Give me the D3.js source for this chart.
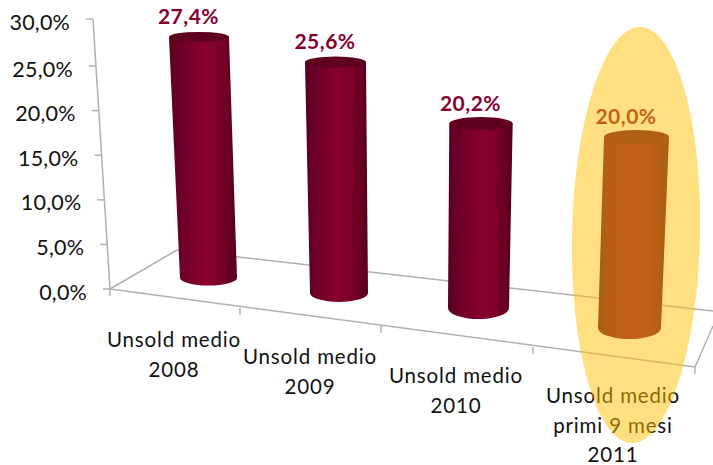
<!DOCTYPE html>
<html>
<head>
<meta charset="utf-8">
<script src="https://cdn.jsdelivr.net/npm/d3@7"></script>
<style>
  html, body { margin: 0; padding: 0; background: #fff; }
  svg { display: block; }
  text { font-family: "Lato", sans-serif; }
</style>
</head>
<body>
<svg id="chart" width="713" height="465"></svg>
<script>
// Chart data
const categories = [
  ["Unsold medio", "2008"],
  ["Unsold medio", "2009"],
  ["Unsold medio", "2010"],
  ["Unsold medio", "primi 9 mesi", "2011"]
];
const values = [27.4, 25.6, 20.2, 20.0];
const tickValues = [0, 5, 10, 15, 20, 25, 30];
const tickLabels = ["0,0%", "5,0%", "10,0%", "15,0%", "20,0%", "25,0%", "30,0%"];

const idx = [0, 1, 2, 3];
const fmt = v => v.toFixed(1).replace(".", ",") + "%";

// Value axis: leans with the view of the 3D box
const axisY = d3.scaleLinear().domain([0, 25, 30]).range([289, 66, 19]);
const axisX = d3.scaleLinear().domain([0, 30]).range([110, 93]);

// Floor edges, per category boundary
const frontX = d3.scaleLinear().domain([0, 1, 2, 3, 4]).range([110, 240, 381, 533, 695]);
const frontY = d3.scaleLinear().domain([0, 1, 2, 3, 4]).range([289, 308, 326, 347, 367]);

// Perspective scales for the cylinders, per category
const baseX = d3.scaleLinear().domain(idx).range([208.5, 339, 478.5, 629.5]);
const baseY = d3.scaleLinear().domain(idx).range([278, 293, 308, 328]);
const unitH = d3.scaleLinear().domain(idx).range([8.8, 9.02, 9.13, 9.55]);
const lean = d3.scaleLinear().domain(idx).range([-0.347, -0.137, 0.124, 0.35]);
const halfTop = d3.scaleLinear().domain(idx).range([30, 30.5, 31.7, 32.5]);
const halfBase = d3.scaleLinear().domain(idx).range([28.5, 29, 30.5, 31.5]);
const ryTop = d3.scaleLinear().domain(idx).range([5, 5.5, 6.5, 7]);
const ryBase = d3.scaleLinear().domain(idx).range([7.5, 9, 11, 11]);

// Category label anchors
const labelX = d3.scaleLinear().domain(idx).range([174, 310, 456, 613]);
const labelY = d3.scaleLinear().domain(idx).range([347, 364, 383, 403]);

const svg = d3.select("#chart");
const burgundy = "#85002f";
const gridGrey = "#b0b0b0";

// Side shading of the cylinders
const grad = svg.append("defs").append("linearGradient")
  .attr("id", "cyl").attr("x1", 0).attr("x2", 1).attr("y1", 0).attr("y2", 0);
[[0, "#55001f"], [0.12, "#680027"], [0.5, "#87002f"], [0.72, "#7f002d"], [0.9, "#650025"], [1, "#52001d"]]
  .forEach(([o, c]) => grad.append("stop").attr("offset", o).attr("stop-color", c));

const line = (x1, y1, x2, y2) => svg.append("line")
  .attr("x1", x1).attr("y1", y1).attr("x2", x2).attr("y2", y2)
  .attr("stroke", gridGrey).attr("stroke-width", 1.5);

// Floor outline
const floorBack = [177, 250];
line(frontX(0), frontY(0), floorBack[0], floorBack[1]);
line(floorBack[0], floorBack[1], 713, 311);
line(frontX(0), frontY(0), frontX(4), frontY(4));
line(frontX(4), frontY(4), 713, 326);

// Category ticks on the front edge
d3.range(0, 5).forEach(i => line(frontX(i), frontY(i), frontX(i), frontY(i) + 7));

// Value axis and its ticks
line(axisX(0), axisY(0), axisX(30), axisY(30));
tickValues.forEach((v, i) => {
  line(axisX(v) - 7, axisY(v), axisX(v), axisY(v));
  svg.append("text")
    .attr("x", axisX(v) - 23).attr("y", axisY(v) + 10.5)
    .attr("text-anchor", "end")
    .attr("font-size", 21.5).attr("letter-spacing", 0.2)
    .attr("fill", "#111")
    .text(tickLabels[i]);
});

// Cylinders
const bars = svg.selectAll("g.bar").data(values).join("g").attr("class", "bar");
const topX = (v, i) => baseX(i) + lean(i) * v;
const topY = (v, i) => baseY(i) - unitH(i) * v;

bars.append("path")
  .attr("fill", "url(#cyl)")
  .attr("d", (v, i) => {
    const tx = topX(v, i), ty = topY(v, i), bx = baseX(i), by = baseY(i);
    const ht = halfTop(i), hb = halfBase(i), rb = ryBase(i);
    return `M${tx - ht},${ty}L${bx - hb},${by}A${hb},${rb} 0 0 0 ${bx + hb},${by}L${tx + ht},${ty}Z`;
  });

bars.append("ellipse")
  .attr("cx", topX).attr("cy", topY)
  .attr("rx", (v, i) => halfTop(i)).attr("ry", (v, i) => ryTop(i))
  .attr("fill", "#5f0021");

// Value labels
svg.selectAll("text.value").data(values).join("text")
  .attr("class", "value")
  .attr("x", (v, i) => topX(v, i) - 10.5)
  .attr("y", (v, i) => topY(v, i) - 13)
  .attr("text-anchor", "middle")
  .attr("font-size", 21).attr("font-weight", 700).attr("letter-spacing", 0.5)
  .attr("fill", burgundy)
  .text(fmt);

// Category labels
categories.forEach((lines, i) => {
  lines.forEach((t, j) => {
    svg.append("text")
      .attr("x", labelX(i)).attr("y", labelY(i) + j * 29.5)
      .attr("text-anchor", "middle")
      .attr("font-size", 20.5).attr("letter-spacing", 0.85)
      .attr("fill", "#111")
      .text(t);
  });
});

// Highlight over the latest period
svg.append("ellipse")
  .attr("cx", 636).attr("cy", 235).attr("rx", 64).attr("ry", 208)
  .attr("transform", "rotate(1.2 636 235)")
  .attr("fill", "#ffc000").attr("fill-opacity", 0.5);
</script>
</body>
</html>
